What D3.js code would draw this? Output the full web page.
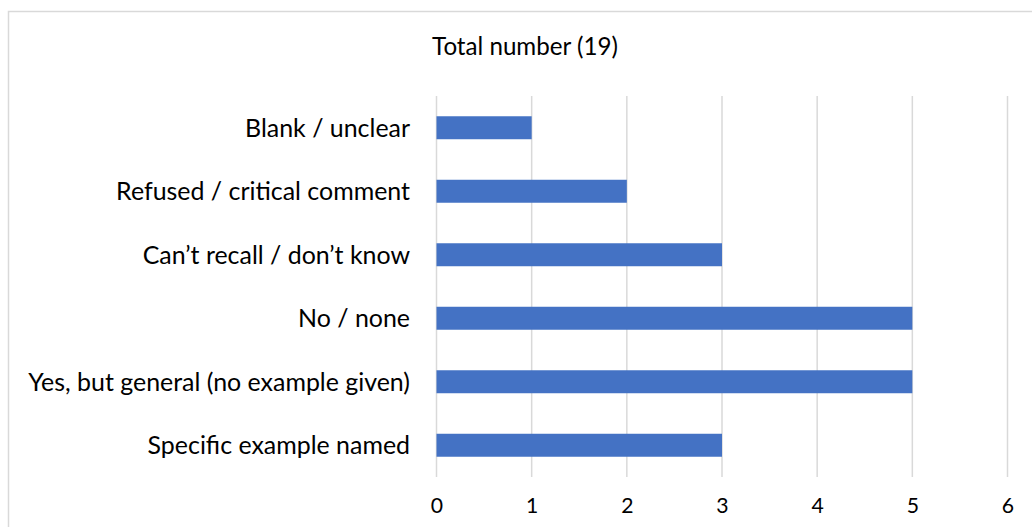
<!DOCTYPE html>
<html><head><meta charset="utf-8">
<script src="https://cdn.jsdelivr.net/npm/d3@7"></script>
<style>body{margin:0;background:#fff}svg{display:block}text{font-family:Lato,"Open Sans",sans-serif;fill:#000}</style>
</head><body><svg id="c" width="1032" height="527"></svg>
<script>
const categories = ["Blank / unclear","Refused / critical comment","Can\u2019t recall / don\u2019t know","No / none","Yes, but general (no example given)","Specific example named"];
const values = [1,2,3,5,5,3];
const tickValues = [0,1,2,3,4,5,6];
const title = "Total number (19)";

const svg = d3.select("#c");
const W=1032,H=527;
svg.append("rect").attr("x",8.5).attr("y",11.5).attr("width",W+10).attr("height",H+10)
  .attr("fill","#fff").attr("stroke","#d9d9d9").attr("stroke-width",1.5);

const x = d3.scaleLinear().domain([0,6]).range([436.5,1007.5]);
const y = d3.scaleBand().domain(categories).range([96,477]).paddingInner(0.638).paddingOuter(0.319);

// gridlines
svg.append("g").selectAll("line").data(tickValues).join("line")
  .attr("x1",d=>x(d)).attr("x2",d=>x(d)).attr("y1",96).attr("y2",477)
  .attr("stroke","#d9d9d9").attr("stroke-width",1.5);

// bars
svg.append("g").selectAll("rect").data(categories).join("rect")
  .attr("x",x(0)).attr("y",d=>y(d)).attr("height",y.bandwidth())
  .attr("width",(d,i)=>x(values[i])-x(0)).attr("fill","#4472c4");

// fit font size helper
function fit(sel, target){
  const w = sel.node().getComputedTextLength();
  const fs = parseFloat(sel.attr("font-size"));
  sel.attr("font-size", fs*target/w);
  return fs*target/w;
}

// category labels
const lg = svg.append("g");
const labels = lg.selectAll("text").data(categories).join("text")
  .attr("x",410).attr("y",d=>y(d)+y.bandwidth()/2).attr("dy","0.36em")
  .attr("text-anchor","end").attr("font-size",20).text(d=>d);
const longest = labels.filter((d,i)=>i===4);
const fs = fit(longest, 382);
labels.attr("font-size",fs);

// x tick labels
const xa = svg.append("g").attr("transform","translate(0,477)")
  .call(d3.axisBottom(x).tickValues(tickValues).tickSize(0).tickPadding(21).tickFormat(d3.format("d")));
xa.select(".domain").remove();
xa.selectAll("text").attr("font-size",fs*0.85).attr("font-family","Lato,'Open Sans',sans-serif").attr("fill","#000");

// title
const t = svg.append("text").attr("x",525).attr("y",55).attr("text-anchor","middle").attr("font-size",20).text(title);
fit(t,186);
</script></body></html>
